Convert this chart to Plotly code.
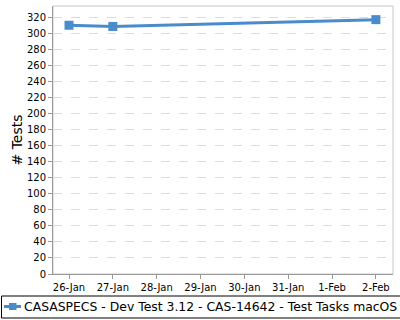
import plotly.graph_objects as go

dates = ["2024-01-26", "2024-01-27", "2024-02-02"]
tests = [310, 308.5, 317]
tick_vals = ["2024-01-26", "2024-01-27", "2024-01-28", "2024-01-29", "2024-01-30",
             "2024-01-31", "2024-02-01", "2024-02-02"]
tick_text = ["26-Jan", "27-Jan", "28-Jan", "29-Jan", "30-Jan", "31-Jan", "1-Feb", "2-Feb"]
series_name = "CASASPECS - Dev Test 3.12 - CAS-14642 - Test Tasks macOS"

color = "#4a8ccb"
font = "DejaVu Sans"

# plot-area geometry (pixels)
L, R, T, B = 53, 393, 6, 274
W, H = R - L, B - T
px = lambda x: (x - L) / W
py = lambda y: (B - y) / H

fig = go.Figure()
fig.add_trace(go.Scatter(
    x=dates, y=tests, mode="lines+markers", name=series_name,
    line=dict(color=color, width=3),
    marker=dict(symbol="square", size=9, color=color),
    showlegend=False,
))

leg_y = 306.5
shapes = [
    dict(type="rect", xref="paper", yref="paper", x0=0, x1=1, y0=0, y1=1,
         line=dict(color="#c8c8c8", width=1), layer="below"),
    # legend box
    dict(type="rect", xref="paper", yref="paper", x0=px(1.5), x1=px(405),
         y0=py(296), y1=py(318), line=dict(color="#000", width=1)),
    # legend symbol
    dict(type="line", xref="paper", yref="paper", x0=px(4), x1=px(21),
         y0=py(leg_y), y1=py(leg_y), line=dict(color=color, width=3)),
    dict(type="rect", xref="paper", yref="paper", x0=px(9), x1=px(16.5),
         y0=py(leg_y - 3.5), y1=py(leg_y + 3.5), line=dict(width=0), fillcolor=color),
]

fig.update_layout(
    width=400, height=320,
    margin=dict(l=L, r=400 - R, t=T, b=320 - B),
    paper_bgcolor="white", plot_bgcolor="white",
    font=dict(family=font, size=10, color="#000"),
    showlegend=False,
    xaxis=dict(type="date", range=["2024-01-25 15:14", "2024-02-02 09:22"],
               tickvals=tick_vals, ticktext=tick_text, showgrid=False,
               ticks="outside", ticklen=4, tickcolor="#999",
               showline=True, linecolor="#999", linewidth=1, zeroline=False,
               tickfont=dict(size=10)),
    yaxis=dict(range=[0, 334], dtick=20, tick0=0, showgrid=True,
               gridcolor="#dcdcdc", griddash="dash", gridwidth=1,
               ticks="outside", ticklen=4, tickcolor="#999",
               showline=True, linecolor="#999", linewidth=1, zeroline=False,
               title=dict(text="# Tests", font=dict(size=14, family=font), standoff=1),
               tickfont=dict(size=10)),
    shapes=shapes,
    annotations=[dict(text=series_name, xref="paper", yref="paper",
                      x=px(23), y=py(leg_y), xanchor="left", yanchor="middle",
                      showarrow=False, font=dict(size=12.4, family=font), xshift=-1)],
)

fig.write_html("out.html")
